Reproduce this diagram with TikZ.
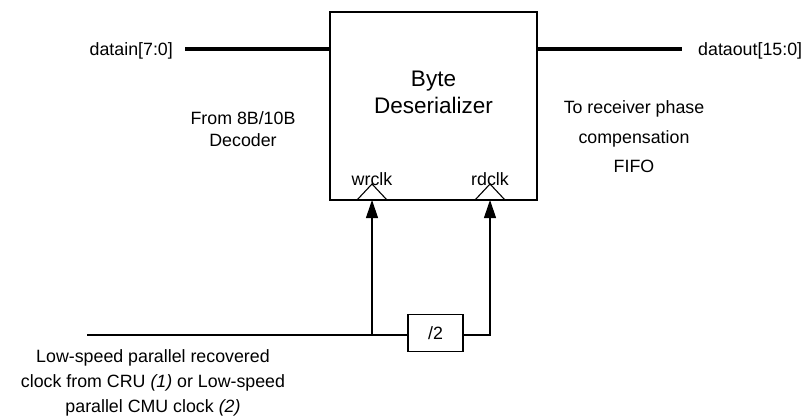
\documentclass[tikz,border=0pt]{standalone}
\usepackage{fontspec}
\setmainfont{Liberation Sans}
\usepackage{tikz}
\usetikzlibrary{positioning, calc, arrows.meta}

\begin{document}
\begin{tikzpicture}[
    x=1pt, y=-1pt,
    block/.style={rectangle, draw, line width=1.2pt, minimum width=207pt, minimum height=188pt,
                  inner sep=0pt},
    bus/.style={line width=3.6pt},
    wire/.style={line width=1.1pt},
    clkarrow/.style={wire, -{Triangle[length=18pt, width=12pt]}},
    lbl/.style={font=\fontsize{17.8}{21}\selectfont, inner sep=0pt},
  ]
    \useasboundingbox (0,0) rectangle (802,418);

    % main block
    \node[block] (deser) at (433.5,106) {};
    \node[font=\fontsize{22.5}{27}\selectfont, align=center] (name) at (433.5,92) {Byte\\Deserializer};

    % clock inputs on the block
    \draw[wire] (357,200) -- (372,184) -- (387,200);
    \draw[wire] (475,200) -- (490,184) -- (505,200);
    \node[lbl] (wrclk) at (372,179) {wrclk};
    \node[lbl] (rdclk) at (490,179) {rdclk};
    \coordinate (wr) at (372,200);
    \coordinate (rd) at (490,200);

    % data buses
    \node[lbl, anchor=east] (datain) at (173,51) {datain[7:0]};
    \node[lbl, anchor=west] (dataout) at (698,51) {dataout[15:0]};
    \coordinate (dinL) at (185,49);
    \coordinate (doutR) at (682,49);
    \draw[bus] (dinL) -- (dinL -| deser.west);
    \draw[bus] (doutR -| deser.east) -- (doutR);

    \node[lbl, align=center, font=\fontsize{17.8}{22}\selectfont] (from) at (243,129) {From 8B/10B\\Decoder};
    \node[lbl, align=center, font=\fontsize{17.8}{29.5}\selectfont] (to) at (634,137) {To receiver phase\\compensation\\FIFO};

    % clock path
    \coordinate (clkin) at (87,335);
    \coordinate (split) at (372,335);
    \node[rectangle, draw, line width=1.1pt, minimum width=55pt, minimum height=37pt,
          lbl] (div2) at (435.5,333) {/2};
    \coordinate (rdturn) at (490,335);
    \draw[wire] (clkin) -- (split) -- (split -| div2.west);
    \draw[clkarrow] (split) -- (wr);
    \draw[clkarrow] (split -| div2.east) -- (rdturn) -- (rd);

    \node[lbl, align=center, font=\fontsize{17.8}{25}\selectfont] (src) at (153,383)
      {Low-speed parallel recovered\\clock from CRU \textit{(1)} or Low-speed\\parallel CMU clock \textit{(2)}};
  \end{tikzpicture}
\end{document}
